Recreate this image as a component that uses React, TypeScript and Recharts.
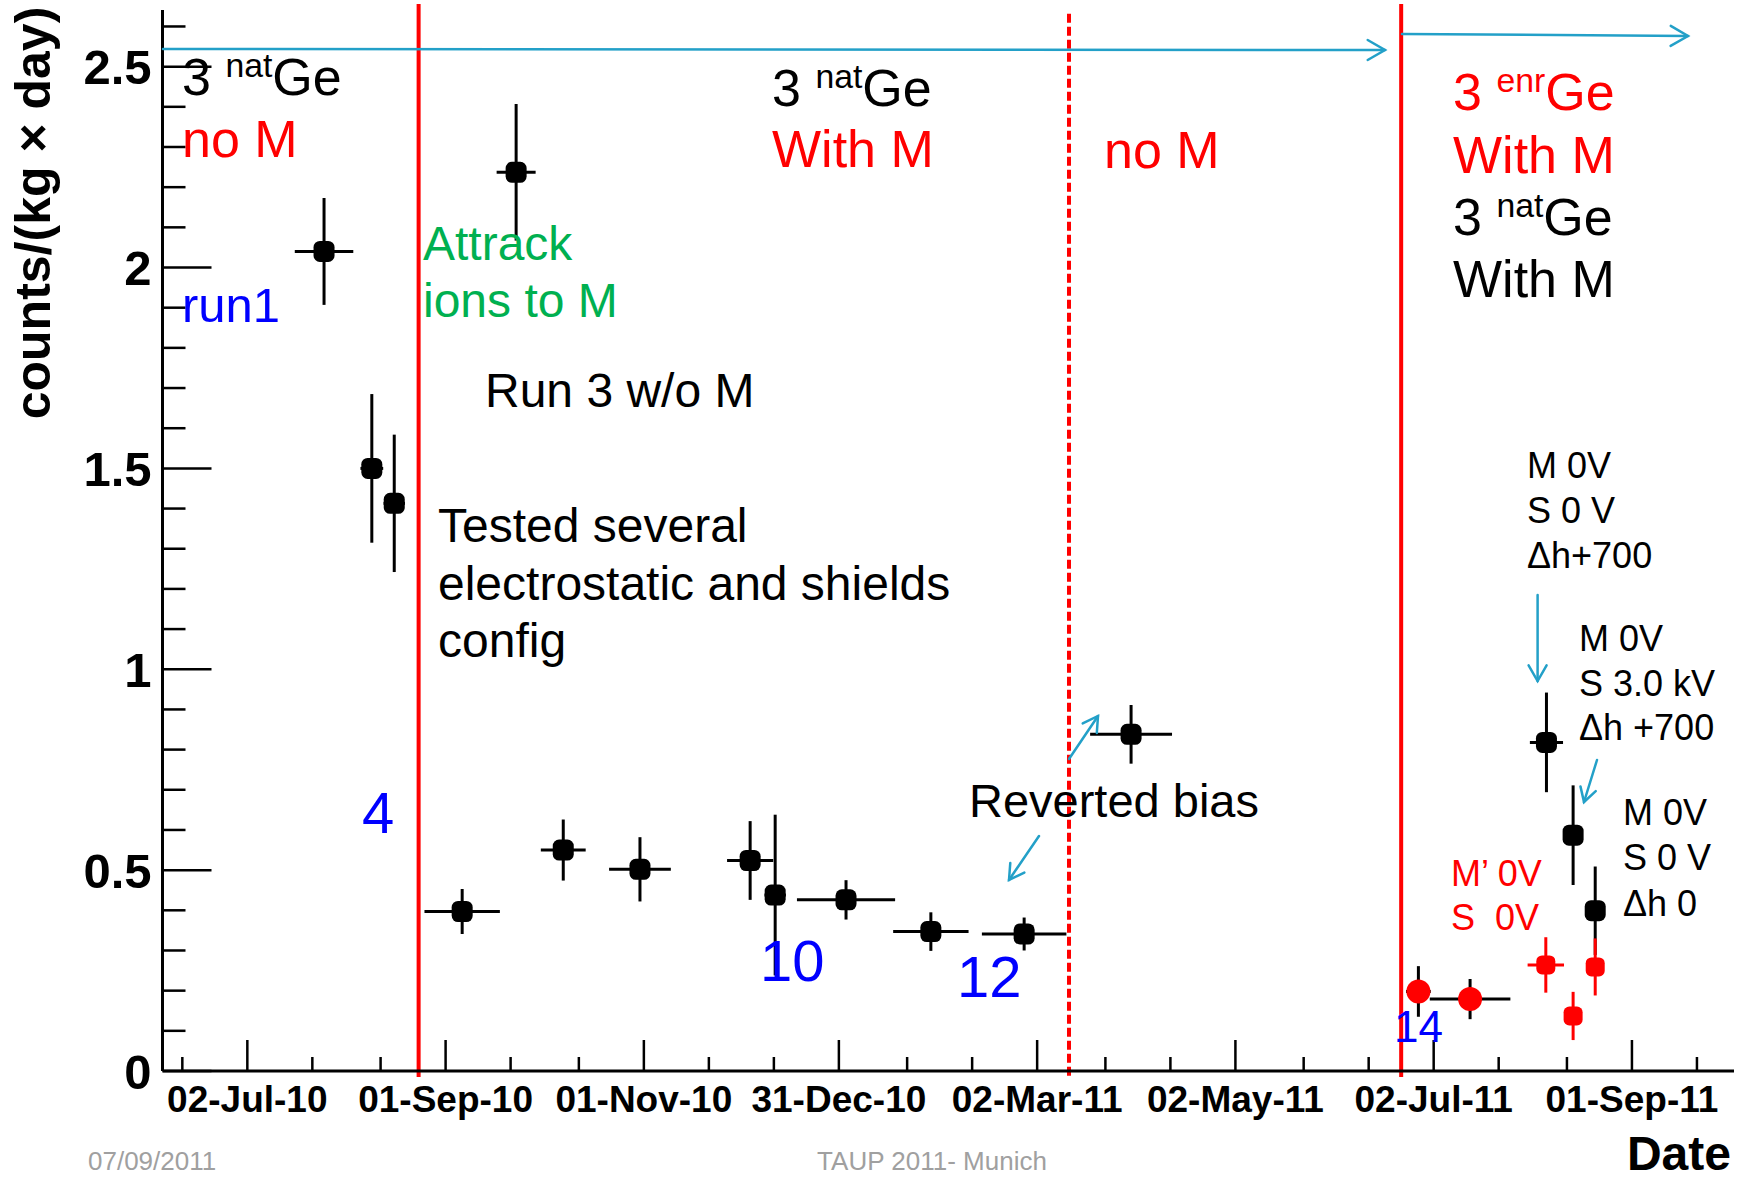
import React from "react";
import {
  ScatterChart,
  Scatter,
  XAxis,
  YAxis,
  ErrorBar,
  ReferenceLine,
  ReferenceArea,
} from "recharts";

// x values are days counted from 02-Jul-2010
const X_MAJOR = [0, 61, 122, 182, 243, 304, 365, 426];
const X_LABELS = [
  "02-Jul-10",
  "01-Sep-10",
  "01-Nov-10",
  "31-Dec-10",
  "02-Mar-11",
  "02-May-11",
  "02-Jul-11",
  "01-Sep-11",
];
const X_MINOR = [-20, 20, 41, 81, 102, 142, 162, 203, 223, 264, 284, 325, 345, 385, 406, 446];

const Y_TICKS = [
  0, 0.1, 0.2, 0.3, 0.4, 0.5, 0.6, 0.7, 0.8, 0.9, 1, 1.1, 1.2, 1.3, 1.4, 1.5, 1.6, 1.7, 1.8, 1.9,
  2, 2.1, 2.2, 2.3, 2.4, 2.5, 2.6,
];
const Y_MAJOR = [0, 0.5, 1, 1.5, 2, 2.5];

// natGe runs (black)
const natDays = [23.6, 38.3, 45.2, 66.1, 82.7, 97.2, 120.8, 154.7, 162.4, 184.2, 210.3, 239.0, 271.9, 399.7, 407.9, 414.7];
const natRates = [2.04, 1.5, 1.413, 0.397, 2.237, 0.55, 0.502, 0.524, 0.438, 0.426, 0.347, 0.341, 0.838, 0.818, 0.587, 0.399];
const natDayErr = [9, 3.5, 3.3, 11.6, 6, 6.9, 9.5, 7.1, 3.3, 15.1, 11.6, 13, 12.6, 5.1, 3, 3];
const natRateErr = [0.133, 0.185, 0.171, 0.056, 0.17, 0.076, 0.08, 0.098, 0.2, 0.049, 0.048, 0.041, 0.073, 0.124, 0.124, 0.11];

// enrGe runs (big red dots, black errors)
const enrDays = [360.3, 376.2];
const enrRates = [0.198, 0.179];
const enrDayErr = [3.8, 12.4];
const enrRateErr = [0.063, 0.05];

// enrGe with M' 0V / S 0V (small red markers)
const mpDays = [399.5, 407.9, 414.7];
const mpRates = [0.264, 0.137, 0.259];
const mpDayErr = [5.6, 2, 2];
const mpRateErr = [0.069, 0.06, 0.071];

const PHASE_SOLID = [52.7, 355.0];
const PHASE_DASHED = [252.8];

const rows = (d, r, de, re) =>
  d.map((day, i) => ({ day, rate: r[i], dayErr: de[i], rateErr: re[i] }));

const natData = rows(natDays, natRates, natDayErr, natRateErr);
const enrData = rows(enrDays, enrRates, enrDayErr, enrRateErr);
const mpData = rows(mpDays, mpRates, mpDayErr, mpRateErr);

const FONT = "'Liberation Sans', Arial, Helvetica, sans-serif";
const ARROW = "#23a0c8";

function XTick(props) {
  const { x, y, payload } = props;
  const i = X_MAJOR.indexOf(payload.value);
  const major = i >= 0;
  return (
    <g>
      <line x1={x} x2={x} y1={y} y2={y - (major ? 31 : 14)} stroke="#000" strokeWidth={2.5} />
      {major && (
        <text x={x} y={y + 41} textAnchor="middle" fontSize={37} fontWeight="bold" fontFamily={FONT} fill="#000">
          {X_LABELS[i]}
        </text>
      )}
    </g>
  );
}

function YTick(props) {
  const { x, y, payload } = props;
  const major = Y_MAJOR.includes(payload.value);
  return (
    <g>
      <line x1={x} x2={x + (major ? 49 : 23)} y1={y} y2={y} stroke="#000" strokeWidth={2.5} />
      {major && (
        <text x={x - 11} y={y + 17.5} textAnchor="end" fontSize={49} fontWeight="bold" fontFamily={FONT} fill="#000">
          {String(payload.value)}
        </text>
      )}
    </g>
  );
}

// ROOT-like filled marker: a rounded square
function Box(size, fill) {
  return (p) => (
    <rect x={p.cx - size / 2} y={p.cy - size / 2} width={size} height={size} rx={size * 0.3} fill={fill} />
  );
}

function Dot(r, fill) {
  return (p) => <circle cx={p.cx} cy={p.cy} r={r} fill={fill} />;
}

function Arrow({ x1, y1, x2, y2, head = 20 }) {
  const a = Math.atan2(y2 - y1, x2 - x1);
  const s = Math.PI / 6;
  const w1 = [x2 - head * Math.cos(a - s), y2 - head * Math.sin(a - s)];
  const w2 = [x2 - head * Math.cos(a + s), y2 - head * Math.sin(a + s)];
  return (
    <g stroke={ARROW} strokeWidth={2.5} fill="none" strokeLinecap="round">
      <line x1={x1} y1={y1} x2={x2} y2={y2} />
      <polyline points={`${w1[0]},${w1[1]} ${x2},${y2} ${w2[0]},${w2[1]}`} />
    </g>
  );
}

function Sup({ x, y, base, sup, rest, fill, size = 52 }) {
  return (
    <text x={x} y={y} fontSize={size} fill={fill} fontFamily={FONT}>
      {base}{" "}
      <tspan fontSize={size * 0.65} dy={-18}>
        {sup}
      </tspan>
      <tspan dy={18}>{rest}</tspan>
    </text>
  );
}

function T({ x, y, size = 48, fill = "#000", children, anchor = "start", weight = "normal" }) {
  return (
    <text x={x} y={y} fontSize={size} fill={fill} fontFamily={FONT} textAnchor={anchor} fontWeight={weight} style={{ whiteSpace: "pre" }}>
      {children}
    </text>
  );
}

export default function App() {
  const xTicks = [...X_MINOR, ...X_MAJOR].sort((a, b) => a - b);
  return (
    <div style={{ position: "absolute", left: 0, top: 0, width: 1737, height: 1181, background: "#fff" }}>
      <ScatterChart width={1737} height={1181} margin={{ top: 10, right: 3, bottom: 0, left: 0 }}>
        <XAxis
          type="number"
          dataKey="day"
          domain={[-26.1, 457.4]}
          ticks={xTicks}
          interval={0}
          tick={(p) => <XTick {...p} />}
          tickLine={false}
          tickSize={0}
          tickMargin={0}
          height={110}
          axisLine={{ stroke: "#000", strokeWidth: 3 }}
          allowDataOverflow
        />
        <YAxis
          type="number"
          dataKey="rate"
          domain={[0, 2.641]}
          ticks={Y_TICKS}
          interval={0}
          tick={(p) => <YTick {...p} />}
          tickLine={false}
          tickSize={0}
          tickMargin={0}
          width={162.5}
          axisLine={{ stroke: "#000", strokeWidth: 3 }}
          allowDataOverflow
        />
        <ReferenceArea fill="none" stroke="#444" strokeWidth={3} ifOverflow="visible" />
        {PHASE_SOLID.map((d) => (
          <ReferenceLine
            key={d}
            segment={[{ x: d, y: -0.015 }, { x: d, y: 2.656 }]}
            stroke="#ff0000"
            strokeWidth={4}
            ifOverflow="visible"
          />
        ))}
        {PHASE_DASHED.map((d) => (
          <ReferenceLine
            key={d}
            segment={[{ x: d, y: -0.012 }, { x: d, y: 2.641 }]}
            stroke="#ff0000"
            strokeWidth={4}
            strokeDasharray="9 4"
            ifOverflow="visible"
          />
        ))}
        <Scatter data={natData} fill="#000" shape={Box(21, "#000")} isAnimationActive={false}>
          <ErrorBar dataKey="rateErr" direction="y" width={0} stroke="#000" strokeWidth={3} />
          <ErrorBar dataKey="dayErr" direction="x" width={0} stroke="#000" strokeWidth={3} />
        </Scatter>
        <Scatter data={enrData} fill="#000" shape={() => <g />} isAnimationActive={false}>
          <ErrorBar dataKey="rateErr" direction="y" width={0} stroke="#000" strokeWidth={3} />
          <ErrorBar dataKey="dayErr" direction="x" width={0} stroke="#000" strokeWidth={3} />
        </Scatter>
        <Scatter data={enrData} fill="#ff0000" shape={Dot(12, "#ff0000")} isAnimationActive={false} />
        <Scatter data={mpData} fill="#ff0000" shape={Box(19, "#ff0000")} isAnimationActive={false}>
          <ErrorBar dataKey="rateErr" direction="y" width={0} stroke="#ff0000" strokeWidth={3} />
          <ErrorBar dataKey="dayErr" direction="x" width={0} stroke="#ff0000" strokeWidth={3} />
        </Scatter>
      </ScatterChart>

      <svg width={1737} height={1181} style={{ position: "absolute", left: 0, top: 0, pointerEvents: "none" }}>
        <text
          x={50}
          y={213}
          transform="rotate(-90 50 213)"
          textAnchor="middle"
          fontSize={50}
          fontWeight="bold"
          fontFamily={FONT}
          fill="#000"
        >
          counts/(kg × day)
        </text>

        <Arrow x1={163} y1={49} x2={1385} y2={50} />
        <Arrow x1={1402} y1={34} x2={1688} y2={36} />
        <Arrow x1={1069} y1={759} x2={1098} y2={716} head={17} />
        <Arrow x1={1039} y1={836} x2={1009} y2={880} head={17} />
        <Arrow x1={1537.6} y1={595} x2={1537.6} y2={681} head={18} />
        <Arrow x1={1597} y1={760} x2={1584} y2={802} head={16} />

        <Sup x={182} y={95} base="3" sup="nat" rest="Ge" fill="#000" />
        <T x={182} y={157} size={52} fill="#ff0000">no M</T>
        <T x={182} y={322} size={49} fill="#0000ff">run1</T>
        <T x={423} y={260} fill="#00b050">Attrack</T>
        <T x={423} y={317} fill="#00b050">ions to M</T>
        <T x={485} y={407}>Run 3 w/o M</T>
        <T x={438} y={542}>Tested several</T>
        <T x={438} y={600}>electrostatic and shields</T>
        <T x={438} y={657}>config</T>
        <T x={362} y={833} size={58} fill="#0000ff">4</T>

        <Sup x={772} y={106} base="3" sup="nat" rest="Ge" fill="#000" />
        <T x={772} y={167} size={52} fill="#ff0000">With M</T>
        <T x={1104} y={168} size={52} fill="#ff0000">no M</T>
        <T x={760} y={981} size={58} fill="#0000ff">10</T>
        <T x={957} y={997} size={58} fill="#0000ff">12</T>
        <T x={969} y={817} size={47}>Reverted bias</T>
        <T x={1394} y={1042} size={44} fill="#0000ff">14</T>

        <Sup x={1453} y={110} base="3" sup="enr" rest="Ge" fill="#ff0000" />
        <T x={1453} y={173} size={52} fill="#ff0000">With M</T>
        <Sup x={1453} y={235} base="3" sup="nat" rest="Ge" fill="#000" />
        <T x={1453} y={297} size={52}>With M</T>

        <T x={1527} y={478} size={36}>M 0V</T>
        <T x={1527} y={523} size={36}>S 0 V</T>
        <T x={1527} y={568} size={36}>Δh+700</T>
        <T x={1579} y={651} size={36}>M 0V</T>
        <T x={1579} y={696} size={36}>S 3.0 kV</T>
        <T x={1579} y={740} size={36}>Δh +700</T>
        <T x={1623} y={825} size={36}>M 0V</T>
        <T x={1623} y={870} size={36}>S 0 V</T>
        <T x={1623} y={916} size={36}>Δh 0</T>
        <T x={1451} y={886} size={36} fill="#ff0000">M’ 0V</T>
        <T x={1451} y={930} size={36} fill="#ff0000">S  0V</T>

        <T x={1731} y={1170} size={48} weight="bold" anchor="end">Date</T>
        <T x={88} y={1170} size={26} fill="#a0a0a0">07/09/2011</T>
        <T x={932} y={1170} size={26} fill="#a0a0a0" anchor="middle">TAUP 2011- Munich</T>
      </svg>
    </div>
  );
}
